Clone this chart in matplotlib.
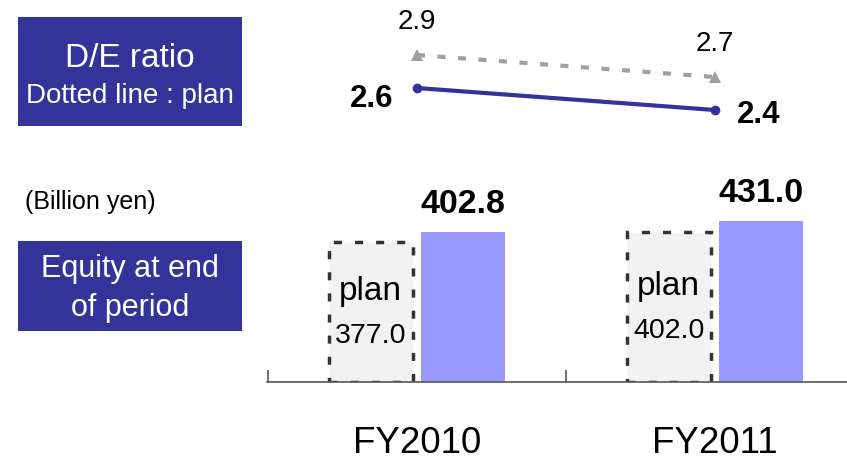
import matplotlib
matplotlib.use("Agg")
import matplotlib.pyplot as plt
from matplotlib.patches import Rectangle

# ---- data ----
years = ["FY2010", "FY2011"]
equity_plan = [377.0, 402.0]
equity_actual = [402.8, 431.0]
de_plan = [2.9, 2.7]
de_actual = [2.6, 2.4]

NAVY = "#333399"
BAR = "#9999FF"
PLAN_FILL = "#F2F2F2"
PLAN_EDGE = "#333333"
GRAY = "#A0A0A0"

plt.rcParams["font.family"] = ["Liberation Sans", "DejaVu Sans"]

W, H = 847, 462
fig = plt.figure(figsize=(W / 100, H / 100), dpi=100)


def px_rect(x0, y0, x1, y1):
    """Figure-fraction rect from pixel box (origin top-left)."""
    return [x0 / W, 1 - y1 / H, (x1 - x0) / W, (y1 - y0) / H]


XLIM = (-0.503, 1.443)
xs = list(range(len(years)))

# ---- equity bars ----
axb = fig.add_axes(px_rect(267, 150, 847, 382))
axb.set_xlim(*XLIM)
axb.set_ylim(0, 623)
for s in ("top", "left", "right"):
    axb.spines[s].set_visible(False)
axb.spines["bottom"].set_color("#555555")
axb.spines["bottom"].set_linewidth(1.2)
axb.set_yticks([])
axb.set_xticks([-0.5, 0.5])
axb.set_xticklabels([])
axb.tick_params(axis="x", direction="in", length=9, width=1.2, color="#555555")
axb.patch.set_alpha(0)

off, bw = 0.155, 0.283
lw_plan = 2.5
plan_bars = axb.bar([x - off for x in xs], equity_plan, width=bw, color=PLAN_FILL,
                    edgecolor=PLAN_EDGE, linewidth=lw_plan,
                    linestyle=(0, (5.8 / lw_plan, 9.4 / lw_plan)), zorder=2)
act_bars = axb.bar([x + off for x in xs], equity_actual, width=bw, color=BAR,
                   linewidth=0, zorder=2)

for x, v in zip(xs, equity_actual):
    axb.annotate(f"{v:.1f}", (x + off, v), xytext=(0, 19), textcoords="offset pixels",
                 ha="center", va="baseline", fontsize=24.5, fontweight="bold",
                 color="black")
for x, v in zip(xs, equity_plan):
    mid = v / 2
    axb.annotate("plan", (x - off, mid), xytext=(0, 12), textcoords="offset pixels",
                 ha="center", va="baseline", fontsize=24, color="black")
    axb.annotate(f"{v:.1f}", (x - off, mid), xytext=(0, -31), textcoords="offset pixels",
                 ha="center", va="baseline", fontsize=20.5, color="black")

# ---- D/E ratio lines ----
axl = fig.add_axes(px_rect(267, 0, 847, 145))
axl.set_xlim(*XLIM)
axl.set_ylim(2.0818, 3.4)
axl.axis("off")
axl.patch.set_alpha(0)
lw_g = 3.0
axl.plot(xs, de_plan, color=GRAY, linewidth=lw_g,
         linestyle=(0, (5.8 / lw_g, 9.0 / lw_g)), marker="^", markersize=8,
         markeredgewidth=0, zorder=2)
axl.plot(xs, de_actual, color=NAVY, linewidth=3.0, marker="o", markersize=7,
         markeredgewidth=0, zorder=3)
for x, v in zip(xs, de_plan):
    axl.annotate(f"{v:.1f}", (x, v), xytext=(0, 26), textcoords="offset pixels",
                 ha="center", va="baseline", fontsize=20, color="black")
label_off = [(-45, -19), (43.5, -13)]
for x, v, (dx, dy) in zip(xs, de_actual, label_off):
    axl.annotate(f"{v:.1f}", (x, v), xytext=(dx, dy), textcoords="offset pixels",
                 ha="center", va="baseline", fontsize=22.5, fontweight="bold",
                 color="black")

# ---- category labels ----
for x, name in zip(xs, years):
    axb.annotate(name, (x, 0), xytext=(0, -71), textcoords="offset pixels",
                 ha="center", va="baseline", fontsize=26.5, color="black",
                 annotation_clip=False)

# ---- title boxes ----
def box(x0, y0, x1, y1):
    fig.patches.append(Rectangle((x0 / W, 1 - y1 / H), (x1 - x0) / W, (y1 - y0) / H,
                                 transform=fig.transFigure, facecolor=NAVY,
                                 edgecolor="none", zorder=1))


box(18, 17, 242, 126)
fig.text(130 / W, 1 - 67 / H, "D/E ratio", ha="center", va="baseline",
         fontsize=24, color="white")
fig.text(130 / W, 1 - 103 / H, "Dotted line : plan", ha="center", va="baseline",
         fontsize=20, color="white")

box(18, 241, 242, 331)
fig.text(130 / W, 1 - 277 / H, "Equity at end", ha="center", va="baseline",
         fontsize=22, color="white")
fig.text(130 / W, 1 - 316 / H, "of period", ha="center", va="baseline",
         fontsize=22, color="white")

fig.text(25 / W, 1 - 209 / H, "(Billion yen)", ha="left", va="baseline",
         fontsize=18, color="black")

fig.savefig("out.png", dpi=100)
